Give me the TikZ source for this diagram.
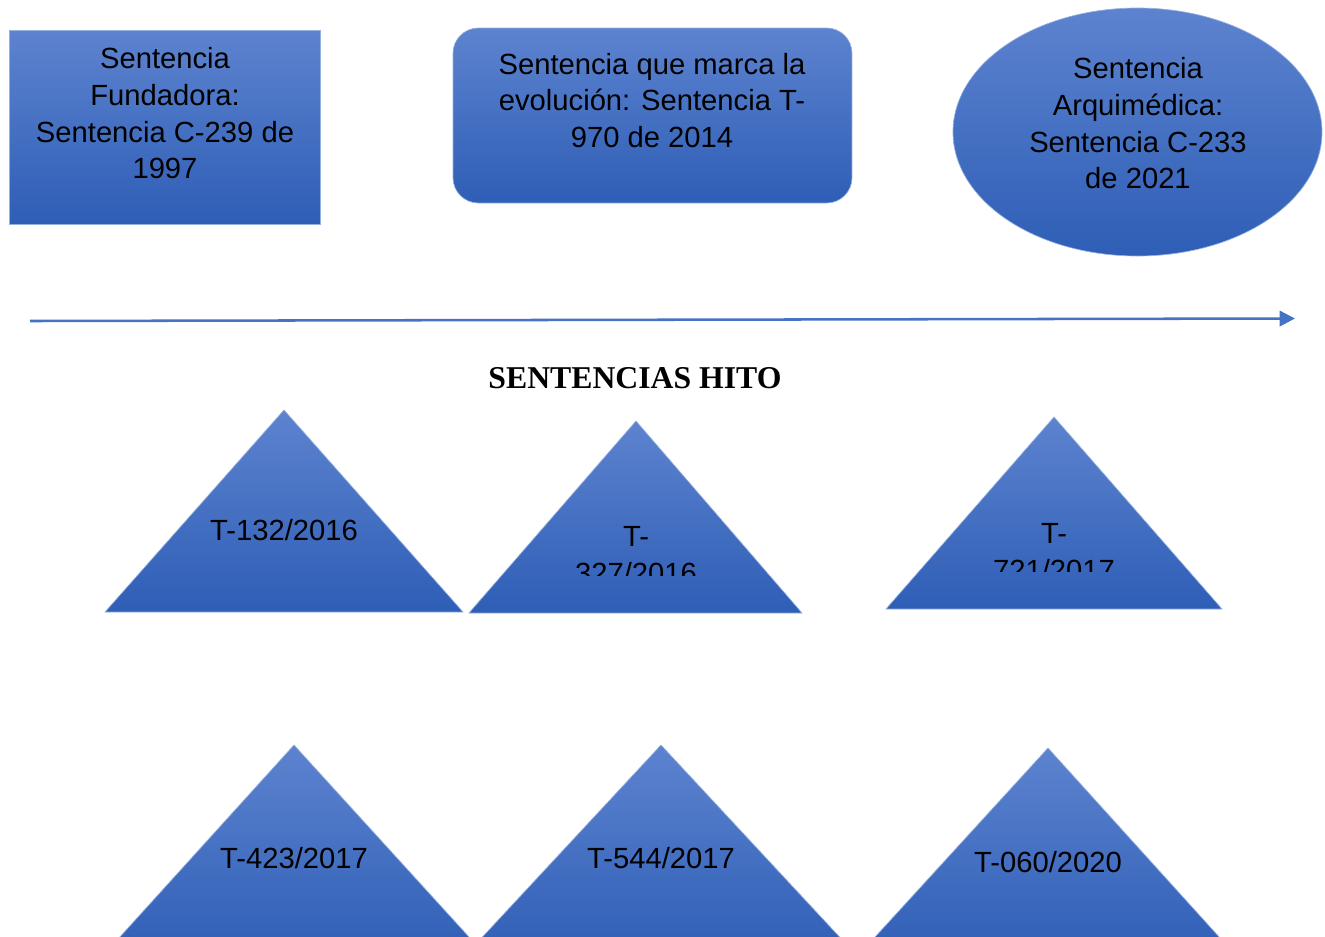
\documentclass[tikz,border=0pt]{standalone}
\usepackage{fontspec}
\setmainfont{Liberation Serif}
\setsansfont{Liberation Sans}
\usetikzlibrary{arrows.meta,shapes.geometric}

\definecolor{azulclaro}{RGB}{93,131,207}
\definecolor{azuloscuro}{RGB}{46,94,182}
\definecolor{borde}{RGB}{150,176,224}
\definecolor{flecha}{RGB}{68,114,196}

\begin{document}
\begin{tikzpicture}[x=0.75pt,y=-0.75pt,
	forma/.style={top color=azulclaro, bottom color=azuloscuro, draw=borde, line width=0.5pt, inner sep=0pt, outer sep=0pt},
	texto/.style={font=\sffamily\fontsize{21.9}{27.5}\selectfont, align=center, inner sep=0pt}]
\clip (0,0) rectangle (1325,936);

% sentencias principales
\node[forma, rectangle, minimum width=233.25pt, minimum height=145.5pt] (fund) at (164.5,127) {};
\node[forma, rectangle, rounded corners=19pt, minimum width=299.25pt, minimum height=131.25pt] (evol) at (652.5,115.5) {};
\node[forma, ellipse, minimum width=276.75pt, minimum height=186pt] (arqui) at (1137.5,132) {};

\node[texto] (tfund) at (165,113.5) {Sentencia\\Fundadora:\\Sentencia C-239 de\\1997};
\node[texto] (tevol) at (652,100.5) {Sentencia que marca la\\evolución: Sentencia T-\\970 de 2014};
\node[texto] (tarqui) at (1138,123.5) {Sentencia\\Arquimédica:\\Sentencia C-233\\de 2021};

% linea de tiempo
\coordinate (inicio) at (30,321);
\coordinate (fin) at (1295,318.5);
\draw[flecha, line width=1.9pt, -{Triangle[length=11.5pt,width=11.5pt]}] (inicio) -- (fin);

\node[font=\rmfamily\bfseries\fontsize{23.8}{28}\selectfont, inner sep=0pt] (titulo) at (635,378) {SENTENCIAS HITO};

% triangulos
\foreach \ax/\ay/\bl/\br/\by in {284/410/105/463/612, 636/421/469/802/613, 1054/417/886/1222/609,
	294/745/99/490/960, 661/745/461/861/960, 1048/748/854/1240/960}{
	\draw[forma] (\ax,\ay) -- (\br,\by) -- (\bl,\by) -- cycle;
}

\node[texto] (t132) at (284,530) {T-132/2016};
\begin{scope}
	\clip (470,421) rectangle (802,575);
	\node[texto] (t327) at (636,555) {T-\\327/2016};
\end{scope}
\begin{scope}
	\clip (886,417) rectangle (1222,571);
	\node[texto] (t721) at (1054,552) {T-\\721/2017};
\end{scope}
\node[texto] (t423) at (294,858) {T-423/2017};
\node[texto] (t544) at (661,858) {T-544/2017};
\node[texto] (t060) at (1048,862) {T-060/2020};
\end{tikzpicture}
\end{document}
